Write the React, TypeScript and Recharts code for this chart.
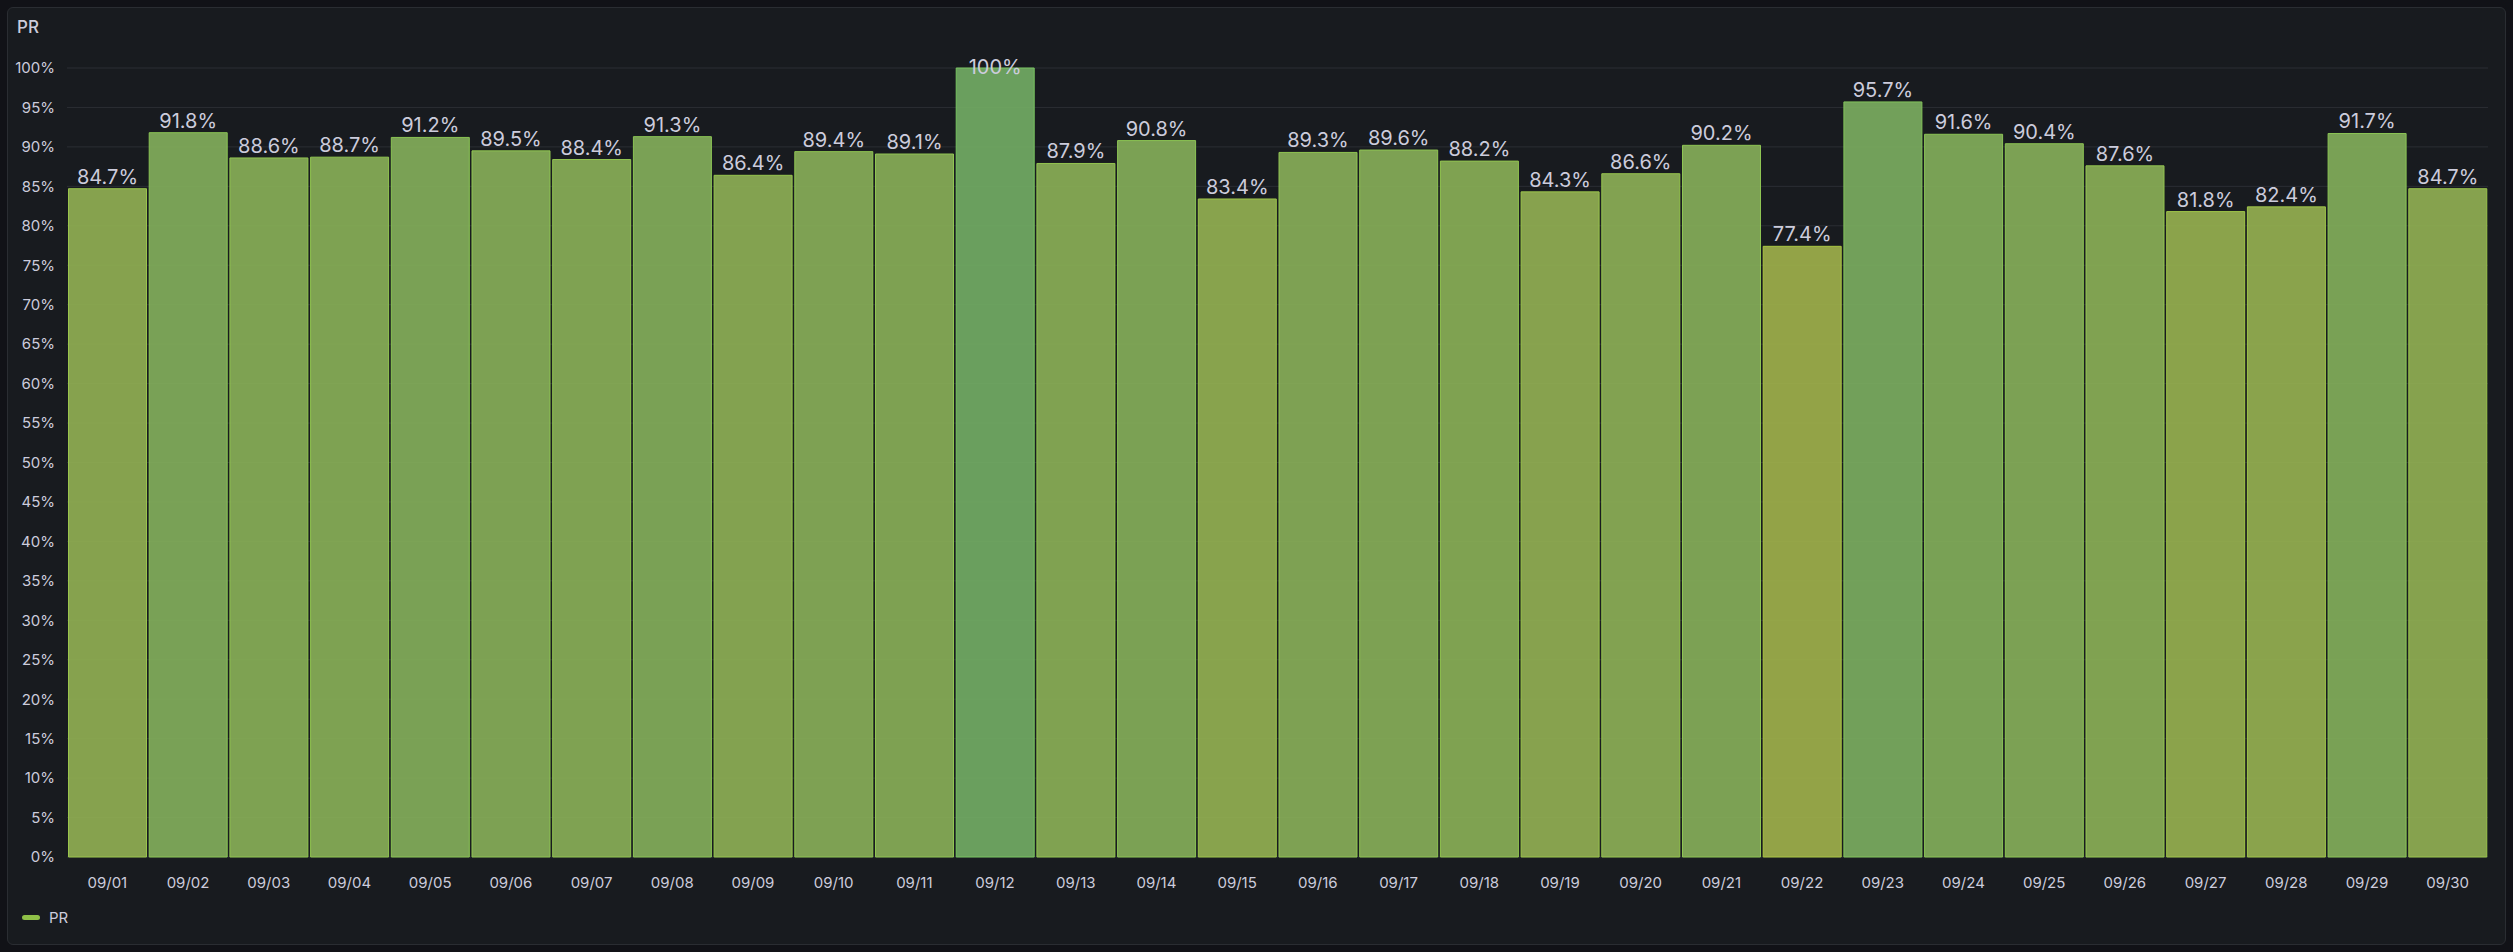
import { BarChart, Bar, XAxis, YAxis, CartesianGrid, Cell, LabelList } from "recharts";

const days = [
    "09/01", "09/02", "09/03", "09/04", "09/05", "09/06", "09/07", "09/08", "09/09", "09/10",
    "09/11", "09/12", "09/13", "09/14", "09/15", "09/16", "09/17", "09/18", "09/19", "09/20",
    "09/21", "09/22", "09/23", "09/24", "09/25", "09/26", "09/27", "09/28", "09/29", "09/30",
];

const prValues = [
    84.7, 91.8, 88.6, 88.7, 91.2, 89.5, 88.4, 91.3, 86.4, 89.4,
    89.1, 100, 87.9, 90.8, 83.4, 89.3, 89.6, 88.2, 84.3, 86.6,
    90.2, 77.4, 95.7, 91.6, 90.4, 87.6, 81.8, 82.4, 91.7, 84.7,
];

const yTicks = [0, 5, 10, 15, 20, 25, 30, 35, 40, 45, 50, 55, 60, 65, 70, 75, 80, 85, 90, 95, 100];

const data = days.map((day, i) => ({ day, pr: prValues[i] }));

const FONT = "Inter, 'Noto Sans', sans-serif";
const TEXT = "#ccccdc";

// continuous color scheme between min and max value (yellow-green -> green)
const lo = Math.min(...prValues);
const hi = Math.max(...prValues);
const mix = (a: number[], b: number[], t: number) =>
    `rgb(${a.map((v, k) => Math.round(v + (b[k] - v) * t)).join(",")})`;
const fillFor = (v: number) => mix([161, 179, 75], [115, 174, 101], (v - lo) / (hi - lo));
const strokeFor = (v: number) => mix([170, 198, 66], [120, 196, 96], (v - lo) / (hi - lo));

const renderLabel = (props: any) => {
    const { x, y, width, value } = props;
    const ty = Math.max(Number(y) - 5, 74);
    return (
        <text
            x={Number(x) + Number(width) / 2}
            y={ty}
            textAnchor="middle"
            fill={TEXT}
            style={{ fontFamily: FONT, fontSize: 20 }}
        >
            {`${value}%`}
        </text>
    );
};

export default function App() {
    return (
        <div style={{ position: "fixed", left: 0, top: 0, width: 2513, height: 952, background: "#111217" }}>
            <div
                style={{
                    position: "absolute",
                    left: 7,
                    top: 7,
                    width: 2497,
                    height: 936,
                    background: "#181b1f",
                    border: "1px solid #2a2d32",
                    borderRadius: 6,
                }}
            />
            <div
                style={{
                    position: "absolute",
                    left: 17,
                    top: 17,
                    fontFamily: FONT,
                    fontSize: 17,
                    fontWeight: 500,
                    color: TEXT,
                }}
            >
                PR
            </div>
            <div style={{ position: "absolute", left: 0, top: 0 }}>
                <BarChart
                    width={2513}
                    height={952}
                    data={data}
                    margin={{ top: 68, right: 25, bottom: 65, left: 7 }}
                    barCategoryGap={1.5}
                >
                    <CartesianGrid vertical={false} stroke="#2b2e34" />
                    <XAxis
                        dataKey="day"
                        interval={0}
                        axisLine={false}
                        tickLine={false}
                        tickSize={0}
                        tickMargin={20}
                        height={30}
                        tick={{ fill: TEXT, fontSize: 15, fontFamily: FONT }}
                    />
                    <YAxis
                        domain={[0, 100]}
                        ticks={yTicks}
                        interval={0}
                        width={60}
                        axisLine={false}
                        tickLine={false}
                        tickSize={0}
                        tickMargin={12}
                        tickFormatter={(v) => `${v}%`}
                        tick={{ fill: TEXT, fontSize: 15, fontFamily: FONT }}
                    />
                    <Bar dataKey="pr" isAnimationActive={false} fillOpacity={0.9}>
                        {data.map((d, i) => (
                            <Cell key={`cell-${i}`} fill={fillFor(d.pr)} stroke={strokeFor(d.pr)} strokeWidth={1} />
                        ))}
                        <LabelList dataKey="pr" content={renderLabel} />
                    </Bar>
                </BarChart>
            </div>
            <div
                style={{
                    position: "absolute",
                    left: 22,
                    top: 908,
                    display: "flex",
                    alignItems: "center",
                    fontFamily: FONT,
                    fontSize: 15,
                    color: TEXT,
                }}
            >
                <span style={{ width: 18, height: 5, borderRadius: 3, background: "#8fc047", marginRight: 9 }} />
                PR
            </div>
        </div>
    );
}
